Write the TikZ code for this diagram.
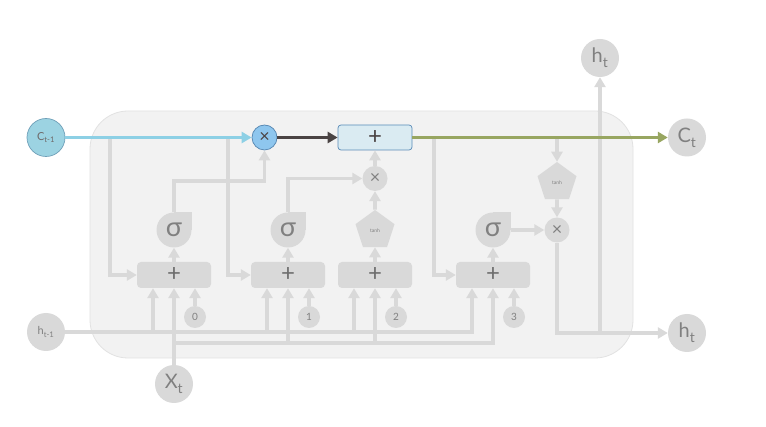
\documentclass[tikz,border=0pt]{standalone}
\usepackage{fontspec}
\setmainfont{Lato}
\usetikzlibrary{arrows.meta,shapes.geometric,calc}
\definecolor{bgc}{HTML}{F2F2F2}
\definecolor{bgb}{HTML}{E2E2E2}
\definecolor{gate}{HTML}{D9D9D9}
\definecolor{lin}{HTML}{D9D9D9}
\definecolor{txt}{HTML}{808080}
\definecolor{plusc}{HTML}{6E6E6E}
\definecolor{blu}{HTML}{8DD0E5}
\definecolor{cfill}{HTML}{9CD3E2}
\definecolor{cbord}{HTML}{6E9FB8}
\definecolor{mfill}{HTML}{8EC6EE}
\definecolor{mbord}{HTML}{5585B0}
\definecolor{afill}{HTML}{DAEBF2}
\definecolor{abord}{HTML}{5A8BB7}
\definecolor{darkc}{HTML}{4A4343}
\definecolor{grn}{HTML}{98A661}
\newcommand\lsub[1]{\raisebox{-0.2ex}{\textsubscript{#1}}}
\begin{document}
\begin{tikzpicture}[x=1pt,y=-1pt,
  tip/.style={-{Triangle[length=10pt,width=11pt]}},
  conn/.style={draw=lin,line width=3.8pt,tip},
  io/.style={circle,fill=gate,minimum size=38pt,inner sep=0pt,text=txt,font=\fontsize{20}{20}\selectfont},
  iosmall/.style={io,font=\fontsize{11}{11}\selectfont},
  gatebox/.style={rectangle,rounded corners=4pt,fill=gate,minimum width=74pt,minimum height=26pt,inner sep=0pt,text=plusc,font=\fontsize{24}{24}\selectfont},
  sig/.style={circle,fill=gate,minimum size=35pt,inner sep=0pt,text=txt,font=\fontsize{27}{27}\selectfont},
  penta/.style={regular polygon,regular polygon sides=5,fill=gate,minimum size=41pt,inner sep=0pt,text=txt,font=\fontsize{5}{5}\selectfont},
  mul/.style={circle,fill=gate,minimum size=25pt,inner sep=0pt,text=txt,font=\fontsize{18}{18}\selectfont},
  num/.style={circle,fill=gate,minimum size=22pt,inner sep=0pt,text=txt,font=\fontsize{10}{10}\selectfont},
  colline/.style={line width=3.8pt,tip},
]
\useasboundingbox (0,0) rectangle (766,427);
\fill[white] (0,0) rectangle (766,427);
\draw[fill=bgc,draw=bgb,line width=0.8pt,rounded corners=38pt] (90,111) rectangle (633,358);

% outer nodes
\node[io,fill=cfill,draw=cbord,line width=0.7pt,text=darkc!80,font=\fontsize{11}{11}\selectfont] (cprev) at (46,137.5) {C\lsub{t-1}};
\node[io] (cnext) at (687,137.5) {C\lsub{t}};
\node[io] (htop) at (600,58) {h\lsub{t}};
\node[io] (hright) at (687,333) {h\lsub{t}};
\node[iosmall] (hprev) at (46,332) {h\lsub{t-1}};
\node[io] (xt) at (174,384) {X\lsub{t}};

% top row
\node[mul,fill=mfill,draw=mbord,line width=0.7pt,text=darkc] (mulf) at (264.5,137.5) {×};
\node[gatebox,fill=afill,draw=abord,line width=0.7pt,rounded corners=3pt,minimum height=25pt,text=darkc] (addc) at (375,137.5) {+};

% gate boxes
\node[gatebox] (g0) at (174,275) {+};
\node[gatebox] (g1) at (288,275) {+};
\node[gatebox] (g2) at (375,275) {+};
\node[gatebox] (g3) at (493,275) {+};

% sigma / tanh
\fill[gate] (174,230) rectangle ++(17.5,-17.5);
\node[sig] (s0) at (174,230) {σ};
\fill[gate] (288,230) rectangle ++(17.5,-17.5);
\node[sig] (s1) at (288,230) {σ};
\node[penta] (th) at (375,230.5) {tanh};
\fill[gate] (493,230) rectangle ++(17.5,-17.5);
\node[sig] (s3) at (493,230) {σ};

\node[mul] (muli) at (375,178.5) {×};
\node[penta] (tho) at (557,182.5) {tanh};
\node[mul] (mulo) at (557,230) {×};

% number inputs
\node[num] (n0) at (195,317) {0};
\node[num] (n1) at (309,317) {1};
\node[num] (n2) at (396,317) {2};
\node[num] (n3) at (514,317) {3};

% helper coordinates
\coordinate (b0) at (110,137.5);
\coordinate (b1) at (228,137.5);
\coordinate (b3) at (434,137.5);
\coordinate (b4) at (557,137.5);
\coordinate (k0) at (264.5,181);
\coordinate (j) at (600,333);
\coordinate (xl) at (174,343);
\foreach \g in {g0,g1,g2,g3}{
  \coordinate (\g l) at ([xshift=-21pt]\g.south);
  \coordinate (\g r) at ([xshift=21pt]\g.south);
}

% gray connectors
\draw[conn] (b0) |- (g0.west);
\draw[conn] (b1) |- (g1.west);
\draw[conn] (b3) |- (g3.west);
\draw[conn] (b4) -- (tho.north);
\draw[conn] (g0.north) -- (s0.south);
\draw[conn] (g1.north) -- (s1.south);
\draw[conn] (g2.north) -- (th.south);
\draw[conn] (g3.north) -- (s3.south);
\draw[conn] (s0.north) |- (k0) -- (mulf.south);
\draw[conn] (s1.north) |- (muli.west);
\draw[conn] (th.north) -- (muli.south);
\draw[conn] (muli.north) -- (addc.south);
\draw[conn] (tho.south) -- (mulo.north);
\draw[conn] (s3.east) -- (mulo.west);
\draw[conn] (mulo.south) |- (hright.west);
\draw[conn] (j) -- (htop.south);
% h bus
\draw[conn] (hprev.east) -| (g3l);
\draw[conn] (g0l |- hprev) -- (g0l);
\draw[conn] (g1l |- hprev) -- (g1l);
\draw[conn] (g2l |- hprev) -- (g2l);
% x bus
\draw[conn] (xt.north) -- (g0.south);
\draw[conn] (xl) -| (g3.south);
\draw[conn] (g1.south |- xl) -- (g1.south);
\draw[conn] (g2.south |- xl) -- (g2.south);
% numbers
\draw[conn] (n0.north) -- (g0r);
\draw[conn] (n1.north) -- (g1r);
\draw[conn] (n2.north) -- (g2r);
\draw[conn] (n3.north) -- (g3r);

% cell state line
\draw[colline,blu] (cprev.east) -- (mulf.west);
\draw[colline,darkc] (mulf.east) -- (addc.west);
\draw[colline,grn] (addc.east) -- (cnext.west);
\end{tikzpicture}
\end{document}
